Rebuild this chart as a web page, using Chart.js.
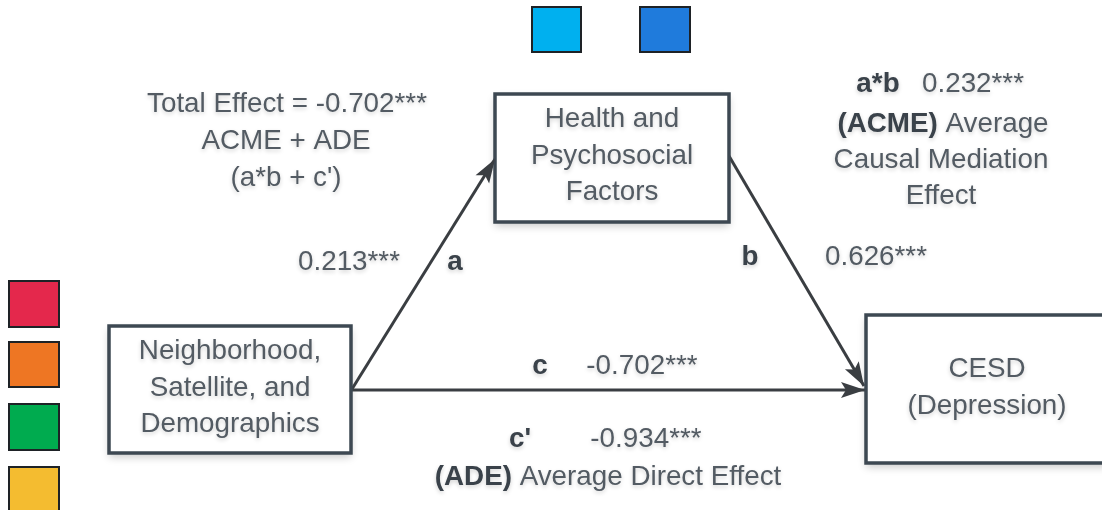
<!DOCTYPE html>
<html>
<head>
<meta charset="utf-8">
<script src="https://cdn.jsdelivr.net/npm/chart.js@4"></script>
<style>
  html, body { margin: 0; padding: 0; background: #ffffff; }
  canvas { display: block; }
</style>
</head>
<body>
<canvas id="mediationChart" width="1102" height="510"></canvas>
<script>
// path coefficients of the mediation model
let pathNames = ['a', 'b', 'c', "c'", 'a*b'];
let pathValues = ['0.213', '0.626', '-0.702', '-0.934', '0.232'];
let pathStars = ['***', '***', '***', '***', '***'];
let totalEffect = '-0.702';

// node captions: exposure, mediator, outcome
let nodeNames = [
  ['Neighborhood,', 'Satellite, and', 'Demographics'],
  ['Health and', 'Psychosocial', 'Factors'],
  ['CESD', '(Depression)']
];

// colour swatches (top pair, left column)
let swatchColors = ['#00b0ef', '#1f7bdc', '#e4284c', '#ee7623', '#00ab4f', '#f4bc30'];

// ---- layout (diagram units, same as the hidden axes) ----
let boxes = [[109, 326, 351, 453], [495, 94, 729, 222], [866, 315, 1108, 463]];
let arrows = [[352, 389, 495, 159], [729, 156, 864, 386], [351, 390, 865, 390]];
let swatchBoxes = [
  [532, 7, 581, 52], [640, 7, 690, 52],
  [9, 281, 59, 327], [9, 342, 59, 387], [9, 404, 59, 450], [9, 467, 59, 512]
];
let nodeText = [[230, 359], [612, 127], [987, 377]]; // centre x, first baseline
let lineGap = 36.5;

let textColor = '#535b63';
let boldColor = '#3a424a';
let strokeColor = '#3d4852';
let fontPx = 27.8;

function rectPts(b) {
  return [{x: b[0], y: b[1]}, {x: b[2], y: b[1]}, {x: b[2], y: b[3]}, {x: b[0], y: b[3]}, {x: b[0], y: b[1]}];
}

let datasets = [];
swatchBoxes.forEach(function (b, i) {
  datasets.push({
    kind: 'swatch',
    data: rectPts(b),
    borderColor: '#1e2226',
    borderWidth: 2,
    backgroundColor: swatchColors[i],
    fill: 'shape',
    pointRadius: 0,
    borderCapStyle: 'square',
    borderJoinStyle: 'miter'
  });
});
boxes.forEach(function (b) {
  datasets.push({
    kind: 'box',
    data: rectPts(b),
    borderColor: strokeColor,
    borderWidth: 3.5,
    backgroundColor: '#ffffff',
    fill: 'shape',
    pointRadius: 0,
    borderCapStyle: 'square',
    borderJoinStyle: 'miter'
  });
});
arrows.forEach(function (a) {
  datasets.push({
    kind: 'arrow',
    data: [{x: a[0], y: a[1]}, {x: a[2], y: a[3]}],
    borderColor: '#3a3e42',
    borderWidth: 3,
    fill: false,
    pointRadius: 0
  });
});

// rich text: list of [text, bold] pieces centred on cx
function drawRich(ctx, pieces, cx, y) {
  let widths = pieces.map(function (p) {
    ctx.font = (p[1] ? 'bold ' : '') + fontPx + 'px "Liberation Sans", Arial, sans-serif';
    return ctx.measureText(p[0]).width;
  });
  let total = widths.reduce(function (s, w) { return s + w; }, 0);
  let x = cx - total / 2;
  pieces.forEach(function (p, i) {
    ctx.font = (p[1] ? 'bold ' : '') + fontPx + 'px "Liberation Sans", Arial, sans-serif';
    ctx.fillStyle = p[1] ? boldColor : textColor;
    ctx.fillText(p[0], x, y);
    x += widths[i];
  });
}

let diagramPlugin = {
  id: 'diagram',
  beforeDatasetsDraw(chart) {
    let ctx = chart.ctx;
    chart.data.datasets.forEach(function (ds, i) {
      if (ds.kind !== 'box') return;
      let pts = chart.getDatasetMeta(i).data;
      ctx.save();
      ctx.shadowColor = 'rgba(0,0,0,0.22)';
      ctx.shadowBlur = 8;
      ctx.shadowOffsetY = 4;
      ctx.fillStyle = '#ffffff';
      ctx.fillRect(pts[0].x, pts[0].y, pts[2].x - pts[0].x, pts[2].y - pts[0].y);
      ctx.restore();
    });
  },
  afterDatasetsDraw(chart) {
    let ctx = chart.ctx;
    let xs = chart.scales.x, ys = chart.scales.y;
    // arrow heads at the end of each arrow line
    chart.data.datasets.forEach(function (ds, i) {
      if (ds.kind !== 'arrow') return;
      let pts = chart.getDatasetMeta(i).data;
      let p0 = pts[0], p1 = pts[1];
      let ang = Math.atan2(p1.y - p0.y, p1.x - p0.x);
      ctx.save();
      ctx.translate(p1.x, p1.y);
      ctx.rotate(ang);
      ctx.beginPath();
      ctx.moveTo(0, 0);
      ctx.lineTo(-24, -8);
      ctx.lineTo(-19, 0);
      ctx.lineTo(-24, 8);
      ctx.closePath();
      ctx.fillStyle = '#3a3e42';
      ctx.fill();
      ctx.restore();
    });

    ctx.save();
    ctx.textBaseline = 'alphabetic';
    ctx.textAlign = 'left';
    ctx.shadowColor = 'rgba(0,0,0,0.18)';
    ctx.shadowBlur = 4;
    ctx.shadowOffsetY = 2;
    let px = function (v) { return xs.getPixelForValue(v); };
    let py = function (v) { return ys.getPixelForValue(v); };

    // node captions
    nodeNames.forEach(function (lines, n) {
      lines.forEach(function (t, k) {
        drawRich(ctx, [[t, false]], px(nodeText[n][0]), py(nodeText[n][1] + k * lineGap));
      });
    });

    // total effect block
    drawRich(ctx, [['Total Effect = ' + totalEffect + pathStars[2], false]], px(287), py(112));
    drawRich(ctx, [['ACME + ADE', false]], px(286), py(149));
    drawRich(ctx, [['(' + pathNames[4] + ' + ' + pathNames[3] + ')', false]], px(286), py(186));

    // path a
    drawRich(ctx, [[pathValues[0] + pathStars[0], false]], px(349), py(270));
    drawRich(ctx, [[pathNames[0], true]], px(455), py(270));
    // path b
    drawRich(ctx, [[pathNames[1], true]], px(750), py(265));
    drawRich(ctx, [[pathValues[1] + pathStars[1], false]], px(876), py(265));
    // path c
    drawRich(ctx, [[pathNames[2], true]], px(540), py(374));
    drawRich(ctx, [[pathValues[2] + pathStars[2], false]], px(642), py(374));
    // path c'
    drawRich(ctx, [[pathNames[3], true]], px(520), py(447));
    drawRich(ctx, [[pathValues[3] + pathStars[3], false]], px(646), py(447));
    drawRich(ctx, [['(ADE)', true], [' Average Direct Effect', false]], px(608), py(485));

    // indirect effect
    drawRich(ctx, [[pathNames[4], true]], px(878), py(92));
    drawRich(ctx, [[pathValues[4] + pathStars[4], false]], px(973), py(92));
    drawRich(ctx, [['(ACME)', true], [' Average', false]], px(943), py(132));
    drawRich(ctx, [['Causal Mediation', false]], px(941), py(168));
    drawRich(ctx, [['Effect', false]], px(941), py(204));
    ctx.restore();
  }
};

let ctx = document.getElementById('mediationChart').getContext('2d');

let mediationChart = new Chart(ctx, {
  type: 'line',
  data: { datasets: datasets },
  options: {
    responsive: false,
    animation: false,
    devicePixelRatio: 1,
    layout: { padding: 0 },
    events: [],
    scales: {
      x: { type: 'linear', min: 0, max: 1102, display: false },
      y: { type: 'linear', min: 0, max: 510, reverse: true, display: false }
    },
    plugins: {
      legend: { display: false },
      tooltip: { enabled: false }
    }
  },
  plugins: [diagramPlugin]
});
</script>
</body>
</html>
